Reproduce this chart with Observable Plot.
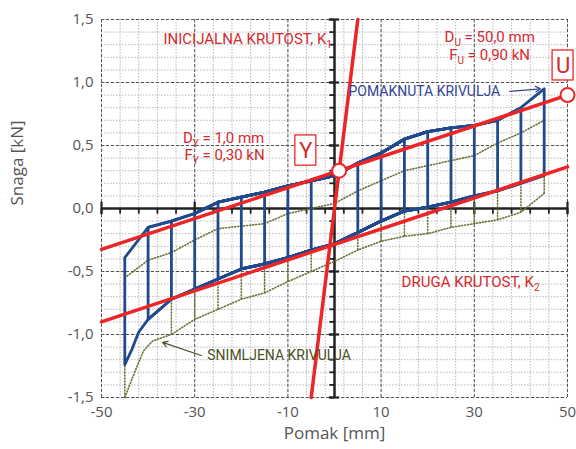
<!DOCTYPE html>
<html><head><meta charset="utf-8">
<script src="https://cdn.jsdelivr.net/npm/d3@7"></script>
<script src="https://cdn.jsdelivr.net/npm/@observablehq/plot@0.6"></script>
<style>body{margin:0;background:#fff}</style>
</head><body><div id="chart"></div>
<script>
// ---- data ----
const amplitudes = [5, 10, 15, 20, 25, 30, 35, 40, 45];

const blueUpperX = [-45, -40, -35, -30, -25, -20, -15, -10, -5, 0, 5, 10, 15, 20, 25, 30, 35, 40, 45];
const blueUpperY = [-0.39, -0.15, -0.10, -0.04, 0.05, 0.09, 0.13, 0.18, 0.22, 0.26, 0.36, 0.44, 0.55, 0.61, 0.64, 0.66, 0.70, 0.80, 0.95];
const blueLowerX = [-45, -43.5, -42, -40, -35, -30, -25, -20, -15, -10, -5, 0, 5, 10, 15, 20, 25, 30, 35, 40, 45];
const blueLowerY = [-1.24, -1.12, -0.98, -0.88, -0.72, -0.64, -0.56, -0.48, -0.44, -0.39, -0.33, -0.28, -0.19, -0.10, -0.02, 0.01, 0.05, 0.10, 0.14, 0.20, 0.26];

const oliveUpperX = [-45, -40, -35, -30, -25, -20, -15, -10, -5, 0, 5, 10, 15, 20, 25, 30, 35, 40, 45];
const oliveUpperY = [-0.55, -0.41, -0.35, -0.25, -0.16, -0.14, -0.12, -0.04, 0.0, 0.04, 0.14, 0.22, 0.30, 0.34, 0.38, 0.42, 0.52, 0.60, 0.70];
const oliveLowerX = [-45, -43, -41, -39, -35, -30, -25, -20, -15, -10, -5, 0, 5, 10, 15, 20, 25, 30, 35, 40, 45];
const oliveLowerY = [-1.50, -1.31, -1.13, -1.05, -1.00, -0.88, -0.80, -0.72, -0.67, -0.58, -0.50, -0.42, -0.33, -0.26, -0.22, -0.20, -0.15, -0.12, -0.09, -0.03, 0.12];

// stiffness lines (end points)
const k1X = [-5, 5], k1Y = [-1.5, 1.5];
const k2UpperX = [-50, 50], k2UpperY = [-0.325, 0.90];
const k2LowerX = [-50, 50], k2LowerY = [-0.90, 0.33];
// characteristic points
const pointNames = ["Y", "U"];
const pointX = [1.0, 50.0];
const pointY = [0.30, 0.90];

// ticks
const xLabelTicks = [-50, -30, -10, 10, 30, 50];
const xMinorTicks = d3.range(-50, 51, 4);
const yLabelTicks = [-1.5, -1.0, -0.5, 0.0, 0.5, 1.0, 1.5];
const yMinorTicks = d3.range(-15, 16).map(d => d / 10);

// ---- build loops ----
function loops(ux, uy, lx, ly, name) {
  const out = [];
  amplitudes.forEach(A => {
    const pts = [];
    ux.forEach((x, i) => { if (Math.abs(x) <= A + 1e-6) pts.push({x, y: uy[i], loop: name + A}); });
    for (let i = lx.length - 1; i >= 0; i--) if (Math.abs(lx[i]) <= A + 1e-6) pts.push({x: lx[i], y: ly[i], loop: name + A});
    pts.push({...pts[0]});
    out.push(...pts);
  });
  return out;
}
const blue = loops(blueUpperX, blueUpperY, blueLowerX, blueLowerY, "b");
const pair = (xs, ys) => xs.map((x, i) => ({x, y: ys[i]}));
// olive drawn without overlaps so the dots stay visible
const oliveUpper = pair(oliveUpperX, oliveUpperY);
const oliveLower = pair(oliveLowerX, oliveLowerY);
const oliveSides = [];
amplitudes.forEach(A => {
  [A, -A].forEach(x => {
    const u = oliveUpperY[oliveUpperX.indexOf(x)], l = oliveLowerY[oliveLowerX.indexOf(x)];
    oliveSides.push({x, y1: l, y2: u});
  });
});
const points = pointNames.map((n, i) => ({n, x: pointX[i], y: pointY[i]}));

const RED = "#ee2527", RTXT = "#d42a2e", BLUE = "#1f4b8e", OLIVE = "#6a7334";
const AF = "Roboto";
const dotted = {stroke: OLIVE, strokeWidth: 1.6, strokeDasharray: "1,2", strokeLinecap: "round"};

const plot = Plot.plot({
  width: 576, height: 449,
  marginLeft: 101, marginRight: 9, marginTop: 19, marginBottom: 52,
  x: {domain: [-50, 50]},
  y: {domain: [-1.5, 1.5]},
  style: {fontFamily: "'Open Sans', sans-serif", background: "#fff"},
  marks: [
    Plot.gridX(xMinorTicks, {stroke: "#b8b8b8", strokeOpacity: 1, strokeDasharray: "1.5,1.5"}),
    Plot.gridY(yMinorTicks, {stroke: "#b8b8b8", strokeOpacity: 1, strokeDasharray: "1.5,1.5"}),
    Plot.gridX(xLabelTicks, {stroke: "#555", strokeOpacity: 1, strokeDasharray: "3,2"}),
    Plot.gridY(yLabelTicks, {stroke: "#555", strokeOpacity: 1, strokeDasharray: "3,2"}),
    Plot.axisX(xLabelTicks, {tickSize: 0, tickPadding: 9, fontSize: 15, color: "#555", label: null, tickFormat: d => String(d)}),
    Plot.axisY(yLabelTicks, {tickSize: 0, tickPadding: 8, fontSize: 15, color: "#555", label: null, tickFormat: d => d.toFixed(1).replace(".", ",")}),
    // black axes through origin
    Plot.ruleY([0], {stroke: "#222", strokeWidth: 2.5}),
    Plot.ruleX([0], {stroke: "#222", strokeWidth: 2.5}),
    Plot.ruleX(xMinorTicks, {y1: -0.045, y2: 0, stroke: "#222", strokeWidth: 1.8}),
    Plot.ruleX(xLabelTicks, {y1: -0.05, y2: 0.05, stroke: "#222", strokeWidth: 2.2}),
    Plot.ruleY(yMinorTicks, {x1: -1.0, x2: 0, stroke: "#222", strokeWidth: 1.8}),
    Plot.ruleY(yLabelTicks, {x1: -1.1, x2: 1.1, stroke: "#222", strokeWidth: 2.2}),
    // recorded curve (dotted)
    Plot.line(oliveUpper, {x: "x", y: "y", ...dotted}),
    Plot.line(oliveLower, {x: "x", y: "y", ...dotted}),
    Plot.ruleX(oliveSides, {x: "x", y1: "y1", y2: "y2", ...dotted}),
    // shifted curve
    Plot.line(blue, {x: "x", y: "y", z: "loop", stroke: BLUE, strokeWidth: 2.8, strokeLinejoin: "round"}),
    // stiffness lines
    Plot.line(pair(k1X, k1Y), {x: "x", y: "y", stroke: RED, strokeWidth: 3.5}),
    Plot.line(pair(k2UpperX, k2UpperY), {x: "x", y: "y", stroke: RED, strokeWidth: 3.5}),
    Plot.line(pair(k2LowerX, k2LowerY), {x: "x", y: "y", stroke: RED, strokeWidth: 3.5}),
    Plot.dot(points, {x: "x", y: "y", r: 7, fill: "#fff", stroke: RED, strokeWidth: 2}),
    // boxes with Y and U
    Plot.rect([{x1: -8.4, x2: -3.9, y1: 0.34, y2: 0.58}, {x1: 46.8, x2: 51.3, y1: 1.016, y2: 1.254}],
      {x1: "x1", x2: "x2", y1: "y1", y2: "y2", fill: "#fff", stroke: RED, strokeWidth: 1.3}),
    Plot.text(["Y"], {x: -6.15, y: 0.46, text: d => d, fill: RTXT, fontSize: 22, fontFamily: AF}),
    Plot.text(["U"], {x: 49.05, y: 1.135, text: d => d, fill: RTXT, fontSize: 22, fontFamily: AF}),
    // annotations
    Plot.text(["INICIJALNA KRUTOST, K_{1}"], {x: -36.7, y: 1.34, text: d => d, textAnchor: "start", fill: RTXT, fontSize: 15, fontFamily: AF}),
    Plot.text(["D_{U} = 50,0 mm"], {x: 33.3, y: 1.357, text: d => d, fill: RTXT, fontSize: 15, fontFamily: AF}),
    Plot.text(["F_{U} = 0,90 kN"], {x: 33.3, y: 1.214, text: d => d, fill: RTXT, fontSize: 15, fontFamily: AF}),
    Plot.text(["D_{Y} = 1,0 mm"], {x: -23.8, y: 0.56, text: d => d, fill: RTXT, fontSize: 15, fontFamily: AF}),
    Plot.text(["F_{Y} = 0,30 kN"], {x: -23.6, y: 0.42, text: d => d, fill: RTXT, fontSize: 15, fontFamily: AF}),
    Plot.text(["DRUGA KRUTOST, K_{2}"], {x: 29.2, y: -0.587, text: d => d, fill: RTXT, fontSize: 15, fontFamily: AF}),
    Plot.text(["POMAKNUTA KRIVULJA"], {x: 3.0, y: 0.93, text: d => d, textAnchor: "start", fill: "#34449a", fontSize: 14, fontFamily: AF}),
    Plot.arrow([{x1: 37.6, y1: 0.93, x2: 44.2, y2: 0.95}], {x1: "x1", y1: "y1", x2: "x2", y2: "y2", stroke: "#34449a", strokeWidth: 1.2, headLength: 7}),
    Plot.text(["SNIMLJENA KRIVULJA"], {x: -27.3, y: -1.167, text: d => d, textAnchor: "start", fill: "#4a5022", fontSize: 14, fontFamily: AF}),
    Plot.arrow([{x1: -28.6, y1: -1.167, x2: -36.9, y2: -1.063}], {x1: "x1", y1: "y1", x2: "x2", y2: "y2", stroke: "#4a5022", strokeWidth: 1.2, headLength: 7}),
    // axis titles
    Plot.text(["Snaga [kN]"], {frameAnchor: "left", dx: -84, dy: -3, rotate: -90, text: d => d, fill: "#555", fontSize: 17}),
    Plot.text(["Pomak [mm]"], {frameAnchor: "bottom", dy: 41, text: d => d, fill: "#555", fontSize: 17})
  ]
});

// subscripts
const NS = "http://www.w3.org/2000/svg";
plot.querySelectorAll("text").forEach(t => {
  const s = t.textContent;
  if (!s.includes("_{")) return;
  const parts = s.split(/(_\{[^}]*\})/).filter(p => p);
  while (t.firstChild) t.removeChild(t.firstChild);
  let shifted = false;
  parts.forEach(p => {
    const ts = document.createElementNS(NS, "tspan");
    if (p.startsWith("_{")) {
      ts.textContent = p.slice(2, -1);
      ts.setAttribute("font-size", "10");
      ts.setAttribute("dy", "4");
      shifted = true;
    } else {
      ts.textContent = p;
      if (shifted) { ts.setAttribute("dy", "-4"); shifted = false; }
    }
    t.appendChild(ts);
  });
});
document.getElementById("chart").appendChild(plot);
</script></body></html>
